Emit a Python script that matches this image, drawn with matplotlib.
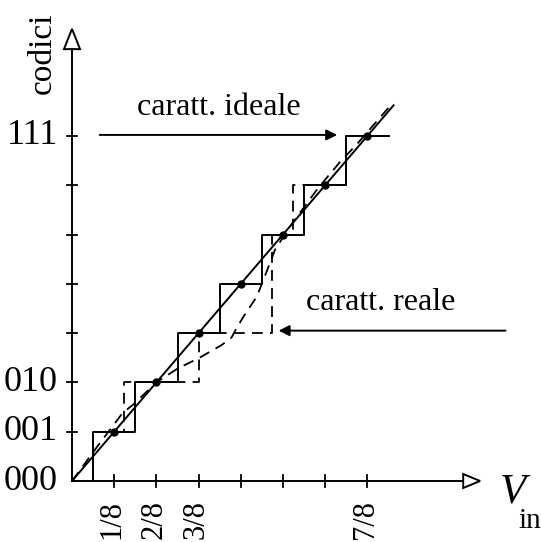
import numpy as np
import matplotlib
matplotlib.use('Agg')
import matplotlib.pyplot as plt
from matplotlib.patches import Polygon

plt.rcParams['font.family'] = ['Liberation Serif', 'DejaVu Serif']

# ideal characteristic (x in 1/8 of full scale, y in codes)
ideal_edges = [0.5, 1.5, 2.5, 3.5, 4.5, 5.5, 6.5]
ideal_codes = [1, 2, 3, 4, 5, 6, 7]
ideal_end = 7.5
dot_x = [1, 2, 3, 4, 5, 6, 7]
dot_y = [1, 2, 3, 4, 5, 6, 7]
line_end = 7.62

# real characteristic (missing code 100)
real_edges = [0.5, 1.24, 3.01, 4.74, 5.23, 6.5]
real_codes = [1, 2, 3, 5, 6, 7]
real_curve_x = [0, 0.6, 1.2, 1.45, 2.0, 2.5, 3.0, 3.55, 3.78, 3.9, 4.06, 4.38,
                4.69, 4.81, 5.17, 5.83, 6.35, 6.77, 7.55]
real_curve_y = [0, 0.70, 1.38, 1.55, 2.0, 2.28, 2.49, 2.76, 2.91, 3.10, 3.33, 3.74,
                4.42, 4.69, 5.17, 5.94, 6.47, 6.85, 7.62]

xtick_pos = [1, 2, 3, 4, 5, 6, 7]
xtick_labels = {1: '1/8', 2: '2/8', 3: '3/8', 7: '7/8'}
ytick_pos = [1, 2, 3, 4, 5, 6, 7]
ytick_labels = {0: '000', 1: '001', 2: '010', 7: '111'}


def staircase(edges, codes, end):
    xs, ys = [edges[0]], [0]
    for i, (e, c) in enumerate(zip(edges, codes)):
        xs.append(e)
        ys.append(c)
        nxt = edges[i + 1] if i + 1 < len(edges) else end
        xs.append(nxt)
        ys.append(c)
    return xs, ys


fig = plt.figure(figsize=(5.41, 5.42), dpi=100)
ax = fig.add_axes([0, 0, 1, 1])
sx, sy = 42.2, 49.3  # px per unit
ax.set_xlim(-72 / sx, (541 - 72) / sx)
ax.set_ylim((481 - 542) / sy, 481 / sy)
ax.axis('off')

lw = 1.4
# assi con frecce vuote
ax.plot([0, 9.27], [0, 0], color='k', lw=lw)
ax.plot([0, 0], [0, 8.76], color='k', lw=lw)
ax.add_patch(Polygon([[9.27, -0.142], [9.67, 0], [9.27, 0.142]], closed=True,
                     facecolor='white', edgecolor='k', lw=lw))
ax.add_patch(Polygon([[-0.19, 8.76], [0, 9.17], [0.19, 8.76]], closed=True,
                     facecolor='white', edgecolor='k', lw=lw))

for xt in xtick_pos:
    ax.plot([xt, xt], [-0.12, 0.12], color='k', lw=1.3)
for yt in ytick_pos:
    ax.plot([-0.12, 0.12], [yt, yt], color='k', lw=1.3)

# caratteristica ideale
xs, ys = staircase(ideal_edges, ideal_codes, ideal_end)
ax.plot(xs, ys, color='k', lw=lw)
ax.plot([0, line_end], [0, line_end], color='k', lw=lw)
ax.plot(dot_x, dot_y, 'o', color='k', ms=5)

# caratteristica reale
xr, yr = staircase(real_edges, real_codes, ideal_end)
ax.plot(xr, yr, color='k', lw=1.3, dashes=(6, 4))
ax.plot(real_curve_x, real_curve_y, color='k', lw=1.3, dashes=(6, 4))

# testi
for k, lab in ytick_labels.items():
    ax.text(-0.33, k, lab, ha='right', va='center', fontsize=26)
for k, lab in xtick_labels.items():
    ax.text(k - 0.05, -0.385, lab, ha='center', va='top', rotation=90, fontsize=22)
ax.text(-0.69, 8.68, 'codici', ha='center', va='center', rotation=90, fontsize=24)
ax.text(10.14, -0.446, 'V', ha='left', va='baseline', fontsize=31, style='italic')
ax.text(10.57, -0.95, 'in', ha='left', va='baseline', fontsize=21)

ax.text(3.48, 7.42, 'caratt. ideale', ha='center', va='baseline', fontsize=23)
ax.annotate('', xy=(6.35, 7.02), xytext=(0.59, 7.02),
            arrowprops=dict(arrowstyle='-|>', color='k', lw=lw, mutation_scale=16))
ax.text(7.32, 3.47, 'caratt. reale', ha='center', va='baseline', fontsize=23)
ax.annotate('', xy=(4.83, 3.05), xytext=(10.34, 3.05),
            arrowprops=dict(arrowstyle='-|>', color='k', lw=lw, mutation_scale=16))

fig.savefig('out.png', dpi=100)
